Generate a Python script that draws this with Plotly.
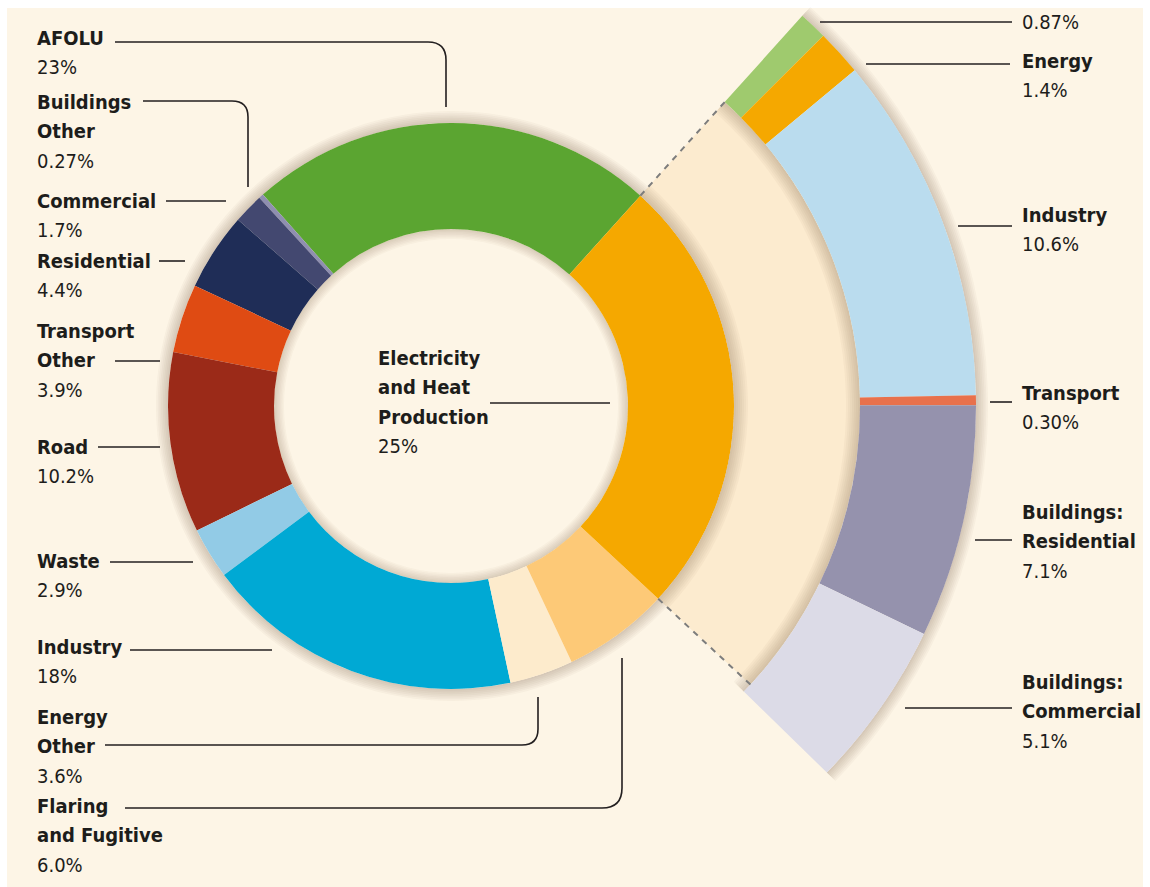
import math
import plotly.graph_objects as go

W, H = 1150, 887

# Direct emissions by economic sector, share of total (%), counter-clockwise order
sectors = ["AFOLU", "Buildings Other", "Commercial", "Residential", "Transport Other",
           "Road", "Waste", "Industry", "Energy Other", "Flaring and Fugitive",
           "Electricity and Heat Production"]
shares = [23, 0.27, 1.7, 4.4, 3.9, 10.2, 2.9, 18, 3.6, 6.0, 25]
share_labels = ["23%", "0.27%", "1.7%", "4.4%", "3.9%", "10.2%", "2.9%", "18%",
                "3.6%", "6.0%", "25%"]
sector_titles = [["AFOLU"], ["Buildings", "Other"], ["Commercial"], ["Residential"],
                 ["Transport", "Other"], ["Road"], ["Waste"], ["Industry"],
                 ["Energy", "Other"], ["Flaring", "and Fugitive"],
                 ["Electricity", "and Heat", "Production"]]
sector_colors = ["#5ba531", "#8f8fb0", "#434870", "#1f2d57", "#df4b13", "#9b2a18",
                 "#92cbe6", "#00a9d4", "#fdebcc", "#fdc977", "#f5a800"]

# Electricity and heat production allocated to end-use sectors (%), clockwise order
indirect = ["AFOLU", "Energy", "Industry", "Transport", "Buildings: Residential",
            "Buildings: Commercial"]
indirect_shares = [0.87, 1.4, 10.6, 0.30, 7.1, 5.1]
indirect_labels = ["0.87%", "1.4%", "10.6%", "0.30%", "7.1%", "5.1%"]
indirect_titles = [[], ["Energy"], ["Industry"], ["Transport"],
                   ["Buildings:", "Residential"], ["Buildings:", "Commercial"]]
indirect_colors = ["#9fca6e", "#f5a800", "#badcee", "#e8714c", "#9592ad", "#dcdbe7"]

# ---- geometry (pixels) ----
CX, CY = 451, 406
R_IN, R_OUT = 177, 283
RING_IN, RING_OUT = 409, 525
START = 48.0
DEG = 360.0 / sum(shares)
BAND = "#fcebcf"
SHADOW = "rgb(95,75,40)"

R1 = 400.0   # radial extent of the donut subplot
R2 = 540.0   # radial extent of the exploded-sector subplot

fig = go.Figure()


def shadow(subplot, theta, width, edge, depth, outward, n=7, alpha=0.038):
    for k in range(1, n + 1):
        d = depth * k / n
        fig.add_trace(go.Barpolar(
            r=[d], base=[edge if outward else edge - d], theta=[theta], width=[width],
            marker=dict(color=SHADOW, line=dict(width=0)), opacity=alpha,
            subplot=subplot, hoverinfo="skip", showlegend=False))


# ---- donut ----
shadow("polar", 180, 359.99, R_OUT, 12, True)
shadow("polar", 180, 359.99, R_IN, 10, False, alpha=0.03)

theta_c, widths = [], []
acc = 0.0
for v in shares:
    theta_c.append(START + (acc + v / 2) * DEG)
    widths.append(v * DEG)
    acc += v
fig.add_trace(go.Barpolar(
    r=[R_OUT - R_IN] * len(shares), base=[R_IN] * len(shares), theta=theta_c,
    width=widths, marker=dict(color=sector_colors, line=dict(width=0)),
    text=sectors, hovertemplate="%{text}<extra></extra>", subplot="polar",
    showlegend=False))

# ---- exploded electricity sector ----
elec_w = shares[-1] * DEG
elec_c = START - elec_w / 2
fig.add_trace(go.Barpolar(
    r=[RING_IN - R_OUT], base=[R_OUT], theta=[elec_c], width=[elec_w],
    marker=dict(color=BAND, line=dict(width=0)), subplot="polar2",
    hoverinfo="skip", showlegend=False))
shadow("polar2", elec_c, elec_w, R_OUT, 14, True)

ring_span = sum(indirect_shares) * DEG
ring_c = START - ring_span / 2
shadow("polar2", ring_c, ring_span, RING_IN, 14, False)
shadow("polar2", ring_c, ring_span, RING_OUT, 12, True)

rt, rw = [], []
acc = 0.0
for v in indirect_shares:
    rt.append(START - (acc + v / 2) * DEG)
    rw.append(v * DEG)
    acc += v
fig.add_trace(go.Barpolar(
    r=[RING_OUT - RING_IN] * len(indirect_shares), base=[RING_IN] * len(indirect_shares),
    theta=rt, width=rw, marker=dict(color=indirect_colors, line=dict(width=0)),
    text=indirect, hovertemplate="%{text}<extra></extra>", subplot="polar2",
    showlegend=False))

for th in (START, START - elec_w):
    fig.add_trace(go.Scatterpolar(
        r=[R_OUT, RING_IN], theta=[th, th], mode="lines",
        line=dict(color="#7d7d7d", width=2, dash="6px,6px"), subplot="polar2",
        hoverinfo="skip", showlegend=False))


# ---- subplot placement ----
def sector_bbox(s0, s1):
    arc = s1 - s0
    a0 = s0 % 360
    a1 = a0 + arc
    c = lambda a: math.cos(math.radians(a))
    s = lambda a: math.sin(math.radians(a))
    ax0, ay0, ax1, ay1 = c(a0), s(a0), c(a1), s(a1)
    if (a0 <= 90 and a1 >= 90) or (a0 > 90 and a1 >= 450):
        y1 = 1
    elif ay0 <= 0 and ay1 <= 0:
        y1 = 0
    else:
        y1 = max(ay0, ay1)
    if (a0 <= 180 and a1 >= 180) or (a0 > 180 and a1 >= 540):
        x0 = -1
    elif ax0 >= 0 and ax1 >= 0:
        x0 = 0
    else:
        x0 = min(ax0, ax1)
    if (a0 <= 270 and a1 >= 270) or (a0 > 270 and a1 >= 630):
        y0 = -1
    elif ay0 >= 0 and ay1 >= 0:
        y0 = 0
    else:
        y0 = min(ay0, ay1)
    if a1 >= 360:
        x1 = 1
    elif ax0 <= 0 and ax1 <= 0:
        x1 = 0
    else:
        x1 = max(ax0, ax1)
    return x0, y0, x1, y1


def hidden_polar(rmax, xdom, ydom, sector=None):
    p = dict(domain=dict(x=xdom, y=ydom), bgcolor="rgba(0,0,0,0)", barmode="overlay",
             radialaxis=dict(range=[0, rmax], visible=False),
             angularaxis=dict(visible=False, rotation=0, direction="counterclockwise"))
    if sector is not None:
        p["sector"] = sector
    return p


sec = [START - ring_span - 1.5, START + 0.5]
bx0, by0, bx1, by1 = sector_bbox(*sec)
polar2_x = [(CX + bx0 * R2) / W, (CX + bx1 * R2) / W]
polar2_y = [(H - (CY - by0 * R2)) / H, (H - (CY - by1 * R2)) / H]
polar1_x = [(CX - R1) / W, (CX + R1) / W]
polar1_y = [(H - (CY + R1)) / H, (H - (CY - R1)) / H]

# ---- labels and leader lines ----
FONT = "DejaVu Sans Condensed, Liberation Sans Narrow, sans-serif"
FS = 20
INK = "#1d1d1b"
LINE_H = 29.3


def fx(x):
    return x / W


def fy(y):
    return 1 - y / H


annotations = []


def label(title_lines, value, x, y_first):
    rows = [f"<b>{t}</b>" for t in title_lines] + [value]
    for k, row in enumerate(rows):
        annotations.append(dict(
            text=row, x=fx(x), y=fy(y_first + k * LINE_H), xref="paper", yref="paper",
            xanchor="left", yanchor="middle", align="left", showarrow=False,
            font=dict(family=FONT, size=FS, color=INK)))


left_rows = [38, 102, 201, 261, 331, 447, 561, 647, 717, 806]
for i, yy in enumerate(left_rows):
    label(sector_titles[i], share_labels[i], 35, yy)
label(sector_titles[-1], share_labels[-1], 376, 358)

right_rows = [22, 61, 215, 393, 512, 682]
for i, yy in enumerate(right_rows):
    label(indirect_titles[i], indirect_labels[i], 1020, yy)

leaders = [
    [(115, 42), (428, 42), ("q", 446, 42, 446, 60), (446, 107)],
    [(143, 101), (232, 101), ("q", 248, 101, 248, 117), (248, 187)],
    [(166, 201), (226, 201)],
    [(159, 261), (185, 261)],
    [(115, 361), (160, 361)],
    [(98, 447), (160, 447)],
    [(110, 562), (193, 562)],
    [(130, 650), (272, 650)],
    [(105, 745), (522, 745), ("q", 538, 745, 538, 729), (538, 697)],
    [(125, 808), (602, 808), ("q", 622, 808, 622, 788), (622, 658)],
    [(490, 403), (610, 403)],
    [(820, 22), (1012, 22)],
    [(866, 64), (1010, 64)],
    [(958, 226), (1012, 226)],
    [(990, 402), (1012, 402)],
    [(975, 540), (1012, 540)],
    [(905, 708), (1012, 708)],
]

shapes = [dict(type="rect", xref="paper", yref="paper", x0=fx(7), x1=fx(1143),
               y0=0, y1=fy(8), fillcolor="#fdf5e6", line=dict(width=0), layer="below")]
for pts in leaders:
    d = ""
    for j, p in enumerate(pts):
        if p[0] == "q":
            d += f" Q {fx(p[1])},{fy(p[2])} {fx(p[3])},{fy(p[4])}"
        else:
            d += (" M " if j == 0 else " L ") + f"{fx(p[0])},{fy(p[1])}"
    shapes.append(dict(type="path", path=d.strip(), xref="paper", yref="paper",
                       line=dict(color="#231f20", width=1.6)))

fig.update_layout(
    width=W, height=H, margin=dict(l=0, r=0, t=0, b=0),
    paper_bgcolor="white", plot_bgcolor="rgba(0,0,0,0)",
    showlegend=False,
    polar=hidden_polar(R1, polar1_x, polar1_y),
    polar2=hidden_polar(R2, polar2_x, polar2_y, sec),
    annotations=annotations, shapes=shapes,
)

fig.write_html("out.html")
